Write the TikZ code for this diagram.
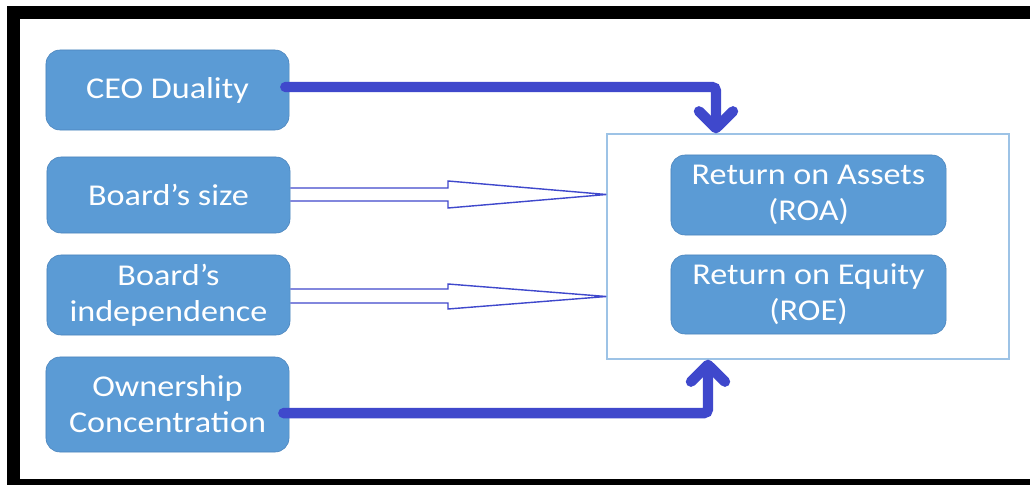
\documentclass[tikz,border=0pt]{standalone}
\usepackage{fontspec}
\setmainfont{Carlito}[FakeStretch=1.13]
\usetikzlibrary{arrows.meta}
\usetikzlibrary{positioning}
\definecolor{boxblue}{HTML}{5B9BD5}
\definecolor{boxedge}{HTML}{4A84BC}
\definecolor{linkblue}{HTML}{3F48CC}
\definecolor{paleblue}{HTML}{9DC3E6}

\begin{document}
\begin{tikzpicture}[x=0.025cm, y=-0.025cm]
            \tikzset{every node/.style={rounded corners=0.35cm, fill=boxblue, draw=boxedge,
                        text=white, align=center, inner sep=0pt,
                        font=\fontsize{21.5}{25.6}\selectfont},
                    factor/.style={minimum width=6.075cm, minimum height=2cm},
                    outcome/.style={minimum width=6.875cm, minimum height=2cm},
                    >={Straight Barb[length=0.42cm, width=0.85cm, round]},
                    strong/.style={draw=linkblue, line width=0.26cm, line cap=round, rounded corners=0.1cm},
                    hollow/.style={draw=linkblue, line width=1pt, line join=miter}}
            \useasboundingbox (0,0) rectangle (1030,485);
            \clip (0,0) rectangle (1030,485);
            \fill[white] (0,0) rectangle (1030,485);
            \draw[line width=0.325cm] (13.5,13) rectangle (1045,485.5);
            % independent variables
            \node[factor] (ceo) at (167.5, 90) {CEO Duality};
            \node[factor, minimum height=1.9cm] (size) at (168.5, 195) {Board’s size};
            \node[factor] (indep) at (168.5, 295) {Board’s\\independence};
            \node[factor, minimum height=2.375cm] (own) at (167.5, 404.5) {Ownership\\Concentration};
            % firm performance
            \node[sharp corners, fill=white, draw=paleblue, line width=0.9pt,
                  minimum width=10.05cm, minimum height=5.625cm] (perf) at (808, 246.5) {};
            \node[outcome] (roa) at (808.5, 195) {Return on Assets\\(ROA)};
            \node[outcome, minimum height=1.975cm] (roe) at (808.5, 294.5) {Return on Equity\\(ROE)};
            \path[strong, ->] ([xshift=-0.1cm, yshift=0.075cm]ceo.east) -| ([xshift=-2.3cm]perf.north);
            \path[strong, ->] ([xshift=-0.15cm, yshift=-0.215cm]own.east) -| ([xshift=-2.5cm]perf.south);
            \draw[hollow] (size.east |- 0,188) -- (448,188) -- (448,181) -- (perf.west |- 0,194.5)
                -- (448,208) -- (448,201) -- (size.east |- 0,201);
            \draw[hollow] (indep.east |- 0,289) -- (448,289) -- (448,284) -- (perf.west |- 0,296.5)
                -- (448,309) -- (448,303) -- (indep.east |- 0,303);
        \end{tikzpicture}
\end{document}
